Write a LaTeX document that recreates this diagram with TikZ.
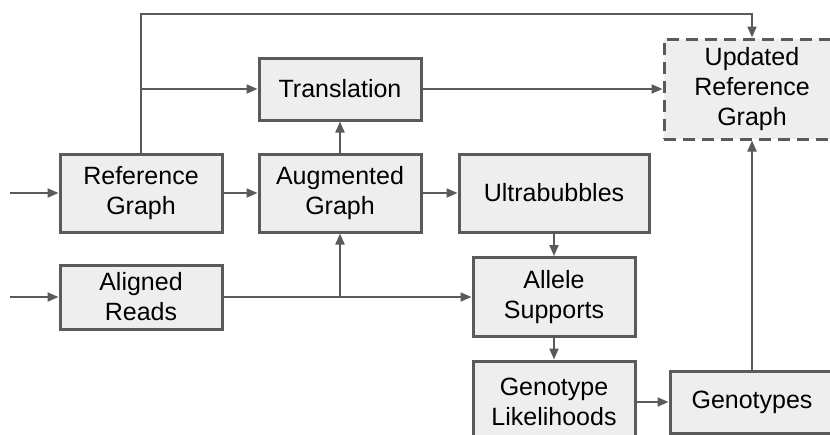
\documentclass[tikz,border=0pt]{standalone}
\usepackage{fontspec}
\setmainfont{Liberation Sans}
\usetikzlibrary{arrows.meta}
\definecolor{edgegray}{HTML}{5A5A5A}
\definecolor{boxfill}{HTML}{EEEEEE}
\begin{document}
\begin{tikzpicture}[x=1pt,y=-1pt,
  box/.style={draw=edgegray, fill=boxfill, line width=3pt, align=center,
    font=\fontsize{25}{30}\selectfont, inner sep=0pt},
  dbox/.style={box, dash pattern=on 12pt off 7pt},
  conn/.style={draw=edgegray, line width=2pt,
    -{Triangle[length=11pt,width=9pt]}},
  plain/.style={draw=edgegray, line width=2pt}]
\useasboundingbox[fill=white] (0,0) rectangle (830,434);
\node[box, minimum width=162pt, minimum height=78pt] (ref) at (141,193) {Reference\\Graph};
\node[box, minimum width=162pt, minimum height=78pt] (aug) at (340,193) {Augmented\\Graph};
\node[box, minimum width=162pt, minimum height=62pt] (trans) at (340,89) {Translation};
\node[box, minimum width=162pt, minimum height=64pt] (aln) at (141,297) {Aligned\\Reads};
\node[box, minimum width=190pt, minimum height=78pt] (ultra) at (554,193) {Ultrabubbles};
\node[box, minimum width=162pt, minimum height=79pt] (allele) at (554,297) {Allele\\Supports};
\node[box, minimum width=162pt, minimum height=82pt] (gl) at (554,402) {Genotype\\Likelihoods};
\node[box, minimum width=164pt, minimum height=62pt] (geno) at (752,402) {Genotypes};
\node[dbox, minimum width=176pt, minimum height=100pt] (upd) at (752,89) {Updated\\Reference\\Graph};
\coordinate (in1) at (10,193);
\coordinate (in2) at (10,297);
\coordinate (tl) at (141,14);
\coordinate (tr) at (752,14);
\coordinate (b1) at (141,89);
\coordinate (b2) at (340,297);
\draw[conn] (in1) -- (ref.west);
\draw[conn] (in2) -- (aln.west);
\draw[conn] (ref.north) -- (tl) -- (tr) -- (upd.north);
\draw[conn] (b1) -- (trans.west);
\draw[conn] (trans.east) -- (upd.west);
\draw[conn] (ref.east) -- (aug.west);
\draw[conn] (aug.north) -- (trans.south);
\draw[conn] (aug.east) -- (ultra.west);
\draw[conn] (aln.east) -- (allele.west);
\draw[conn] (b2) -- (aug.south);
\draw[conn] (ultra.south) -- (allele.north);
\draw[conn] (allele.south) -- (gl.north);
\draw[conn] (gl.east) -- (geno.west);
\draw[conn] (geno.north) -- (upd.south);
\end{tikzpicture}
\end{document}
